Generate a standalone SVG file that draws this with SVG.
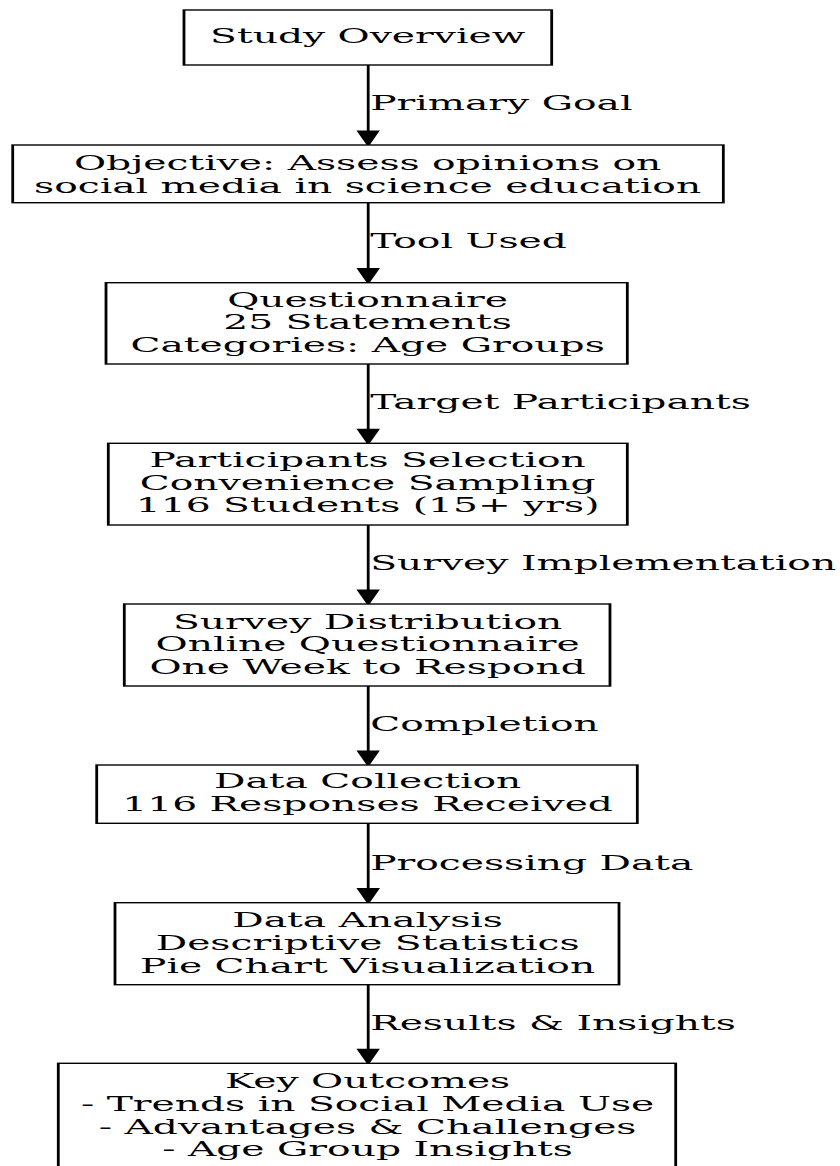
<svg xmlns="http://www.w3.org/2000/svg" width="840" height="1166" viewBox="0 0 840 1166">
  <defs>
    <style>
      .node rect { fill: #ffffff; stroke: #000000; stroke-width: 1; }
      text { font-family: "DejaVu Serif", "Liberation Serif", serif; font-size: 14px; fill: #000000; }
      .nt { text-anchor: middle; }
      .lbl { text-anchor: start; }
      .edge { fill: none; stroke: #000000; stroke-width: 1; }
    </style>
    <marker id="arrow" viewBox="-1 -1 12 9" refX="0" refY="3.5" markerWidth="12" markerHeight="9" markerUnits="userSpaceOnUse" orient="auto">
      <path d="M0,0 L10,3.5 L0,7 Z" fill="#000000" stroke="#000000" stroke-width="1"/>
    </marker>
  </defs>
  <rect x="0" y="0" width="840" height="1166" fill="#ffffff"/>
  <g transform="scale(2.8,1.39)">
    <g id="connectors">
      <path class="edge" d="M131.5,46.76 V94.32" marker-end="url(#arrow)"/>
      <text class="lbl" x="132.2" y="79.5">Primary Goal</text>
      <path class="edge" d="M131.5,145.83 V193.38" marker-end="url(#arrow)"/>
      <text class="lbl" x="132.2" y="178.6">Tool Used</text>
      <path class="edge" d="M131.5,261.87 V308.92" marker-end="url(#arrow)"/>
      <text class="lbl" x="132.2" y="294.1">Target Participants</text>
      <path class="edge" d="M131.5,377.7 V424.53" marker-end="url(#arrow)"/>
      <text class="lbl" x="132.2" y="410.3">Survey Implementation</text>
      <path class="edge" d="M131.5,493.53 V540.36" marker-end="url(#arrow)"/>
      <text class="lbl" x="132.2" y="526.1">Completion</text>
      <path class="edge" d="M131.5,592.3 V639.42" marker-end="url(#arrow)"/>
      <text class="lbl" x="132.2" y="625.9">Processing Data</text>
      <path class="edge" d="M131.5,708.42 V754.96" marker-end="url(#arrow)"/>
      <text class="lbl" x="132.2" y="741.0">Results &amp; Insights</text>
    </g>
    <g id="study_overview" class="node">
      <rect x="65.71" y="7.19" width="131.32" height="39.57"/>
      <text class="nt" x="131.3" y="31.15">Study Overview</text>
    </g>
    <g id="objective" class="node">
      <rect x="4.54" y="104.32" width="253.79" height="41.51"/>
      <text class="nt" x="131.3" y="122.3">Objective: Assess opinions on</text>
      <text class="nt" x="131.3" y="138.6">social media in science education</text>
    </g>
    <g id="questionnaire" class="node">
      <rect x="37.86" y="203.38" width="186.18" height="58.49"/>
      <text class="nt" x="131.3" y="220.65">Questionnaire</text>
      <text class="nt" x="131.3" y="236.95">25 Statements</text>
      <text class="nt" x="131.3" y="253.25">Categories: Age Groups</text>
    </g>
    <g id="participants" class="node">
      <rect x="38.68" y="318.92" width="185.36" height="58.78"/>
      <text class="nt" x="131.3" y="336.0">Participants Selection</text>
      <text class="nt" x="131.3" y="352.3">Convenience Sampling</text>
      <text class="nt" x="131.3" y="368.6">116 Students (15+ yrs)</text>
    </g>
    <g id="survey_distribution" class="node">
      <rect x="44.39" y="434.53" width="173.46" height="59.0"/>
      <text class="nt" x="131.3" y="452.3">Survey Distribution</text>
      <text class="nt" x="131.3" y="468.6">Online Questionnaire</text>
      <text class="nt" x="131.3" y="484.9">One Week to Respond</text>
    </g>
    <g id="data_collection" class="node">
      <rect x="34.54" y="550.36" width="193.07" height="41.94"/>
      <text class="nt" x="131.3" y="567.1">Data Collection</text>
      <text class="nt" x="131.3" y="583.4">116 Responses Received</text>
    </g>
    <g id="data_analysis" class="node">
      <rect x="41.07" y="649.42" width="180.0" height="59.0"/>
      <text class="nt" x="131.3" y="667.1">Data Analysis</text>
      <text class="nt" x="131.3" y="683.4">Descriptive Statistics</text>
      <text class="nt" x="131.3" y="699.7">Pie Chart Visualization</text>
    </g>
    <g id="key_outcomes" class="node">
      <rect x="20.82" y="764.96" width="220.5" height="80"/>
      <text class="nt" x="131.3" y="782.95">Key Outcomes</text>
      <text class="nt" x="131.3" y="799.25">- Trends in Social Media Use</text>
      <text class="nt" x="131.3" y="815.55">- Advantages &amp; Challenges</text>
      <text class="nt" x="131.3" y="831.85">- Age Group Insights</text>
    </g>
  </g>
</svg>
